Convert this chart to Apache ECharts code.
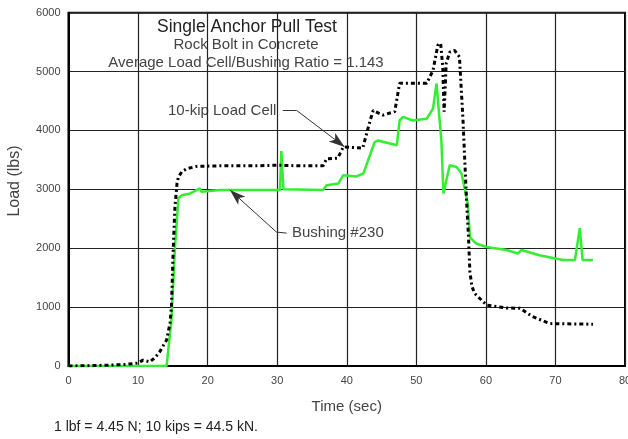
<!DOCTYPE html>
<html>
<head>
<meta charset="utf-8">
<script src="https://cdn.jsdelivr.net/npm/echarts@6/dist/echarts.min.js"></script>
<style>
  html, body { margin: 0; padding: 0; background: #fff; }
  #chart { width: 628px; height: 439px; }
</style>
</head>
<body>
<div id="chart"></div>
<script>
// 10-kip load cell (time in sec, load in lbs)
var cellTime = [0, 3, 6, 8, 10, 10.7, 11.7, 12.5, 13.1, 14.1, 14.6, 14.8, 15.06, 15.3, 15.6, 15.8, 16.3, 17, 18.4, 22, 27, 30, 33, 36.6,
  37.1, 38.7, 39.5, 42.3, 43.2, 43.8, 45.2, 46.9, 47.6, 51.5, 52.4, 53.1, 53.5, 53.8, 54, 54.3, 54.8, 55.5, 56.2, 56.7,
  57.2, 57.5, 57.7, 58, 58.4, 60.1, 63, 64.9, 66.7, 69.2, 75.4];
var cellLoad = [0, 5, 15, 25, 50, 100, 70, 150, 240, 440, 730, 1000, 2000, 2700, 3100, 3210, 3300, 3350, 3390, 3400, 3400, 3410, 3400, 3400,
  3520, 3530, 3720, 3700, 4100, 4340, 4260, 4320, 4800, 4800, 5020, 5450, 5480, 5080, 4320, 5140, 5330, 5360, 5250, 4200,
  2870, 2200, 1600, 1350, 1230, 1035, 985, 980, 840, 720, 710];

// Bushing #230
var bushTime = [0, 14.1, 14.8, 15.3, 15.8, 16.3, 17.5, 18.9, 19.1, 21.8, 30.4, 30.6, 30.9, 31.1, 36.6, 37.1, 38.8, 39.5, 41.4, 42.4,
  44, 44.5, 47.2, 47.6, 48.1, 49.5, 51.5, 52.4, 52.9, 53.1, 53.6, 53.9, 54.8, 55.8, 56.5, 57.4, 57.7, 58.6, 60.1, 63,
  64.6, 65.1, 67.7, 71.1, 72.8, 73.5, 73.9, 75.4];
var bushLoad = [0, 0, 780, 2000, 2850, 2900, 2930, 3015, 2960, 2990, 2990, 3650, 3000, 2990, 2990, 3070, 3100, 3240, 3220, 3270,
  3800, 3830, 3750, 4170, 4230, 4170, 4200, 4370, 4800, 4800, 3830, 2930, 3410, 3380, 3270, 2760, 2190, 2080, 2020, 1970,
  1910, 1970, 1880, 1800, 1800, 2340, 1800, 1800];

var xTicks = [0, 10, 20, 30, 40, 50, 60, 70, 80];
var yTicks = [0, 1000, 2000, 3000, 4000, 5000, 6000];

function pairs(xs, ys) {
  var out = [];
  for (var i = 0; i < xs.length; i++) out.push([xs[i], ys[i]]);
  return out;
}

var font = '"Liberation Sans", Arial, sans-serif';
var leaderStyle = { color: '#333', width: 1, type: 'solid' };

var option = {
  animation: false,
  backgroundColor: '#fff',
  title: [
    { text: 'Single Anchor Pull Test', left: 242, top: 13, textAlign: 'center',
      textStyle: { fontFamily: font, fontSize: 17.5, fontWeight: 'normal', color: '#222' } },
    { text: 'Rock Bolt in Concrete', left: 241, top: 32, textAlign: 'center',
      textStyle: { fontFamily: font, fontSize: 15, fontWeight: 'normal', color: '#444' } },
    { text: 'Average Load Cell/Bushing Ratio = 1.143', left: 241, top: 50, textAlign: 'center',
      textStyle: { fontFamily: font, fontSize: 15, fontWeight: 'normal', color: '#444' } }
  ],
  grid: { left: 68.5, right: 3, top: 12.7, bottom: 73, show: true, borderColor: '#000', borderWidth: 2,
    outerBoundsMode: 'none', containLabel: false },
  xAxis: {
    type: 'value', min: 0, max: 80, interval: 10,
    name: 'Time (sec)', nameLocation: 'middle', nameGap: 33,
    nameTextStyle: { fontFamily: font, fontSize: 15, color: '#444' },
    axisLine: { lineStyle: { color: '#000', width: 2 } },
    axisTick: { show: false },
    axisLabel: { fontFamily: font, fontSize: 11, color: '#444', margin: 9,
      formatter: function (v) { return xTicks.indexOf(v) >= 0 ? String(v) : ''; } },
    splitLine: { show: true, lineStyle: { color: '#222', width: 1.2 } }
  },
  yAxis: {
    type: 'value', min: 0, max: 6000, interval: 1000,
    axisLine: { show: true, lineStyle: { color: '#000', width: 2 } },
    axisTick: { show: false },
    axisLabel: { fontFamily: font, fontSize: 11, color: '#444', margin: 8,
      formatter: function (v) { return yTicks.indexOf(v) >= 0 ? String(v) : ''; } },
    splitLine: { show: true, lineStyle: { color: '#222', width: 1.2 } }
  },
  series: [
    {
      name: 'Bushing #230', type: 'line', data: pairs(bushTime, bushLoad),
      showSymbol: false, symbol: 'none', z: 3,
      lineStyle: { color: '#33ee33', width: 2.5 },
      markLine: {
        silent: true, symbol: ['none', 'none'], label: { show: false }, lineStyle: leaderStyle,
        data: [
          [{ coord: [31.35, 2257], symbol: 'none' }, { coord: [29.9, 2274], symbol: 'none' }],
          [{ coord: [29.9, 2274], symbol: 'none' }, { coord: [23.2, 2990], symbol: 'arrow', symbolSize: [8, 16] }]
        ]
      }
    },
    {
      name: '10-kip Load Cell', type: 'line', data: pairs(cellTime, cellLoad),
      showSymbol: false, symbol: 'none', z: 4,
      lineStyle: { color: '#000', width: 3, type: [4, 3, 2, 3] },
      markLine: {
        silent: true, symbol: ['none', 'none'], label: { show: false }, lineStyle: leaderStyle,
        data: [
          [{ coord: [30.8, 4340], symbol: 'none' }, { coord: [32.8, 4340], symbol: 'none' }],
          [{ coord: [32.8, 4340], symbol: 'none' }, { coord: [39.7, 3720], symbol: 'arrow', symbolSize: [8, 16] }]
        ]
      }
    }
  ],
  graphic: [
    { type: 'text', x: 15, y: 181, rotation: Math.PI / 2,
      style: { text: 'Load (lbs)', font: '16px ' + font, fill: '#444', align: 'center', verticalAlign: 'middle' } },
    { type: 'text', left: 168, top: 103,
      style: { text: '10-kip Load Cell', font: '15px ' + font, fill: '#444' } },
    { type: 'text', left: 292, top: 225,
      style: { text: 'Bushing #230', font: '15px ' + font, fill: '#444' } },
    { type: 'text', left: 54, top: 420,
      style: { text: '1 lbf = 4.45 N; 10 kips = 44.5 kN.', font: '14px ' + font, fill: '#222' } }
  ]
};

var myChart = echarts.init(document.getElementById('chart'));
myChart.setOption(option);
</script>
</body>
</html>
